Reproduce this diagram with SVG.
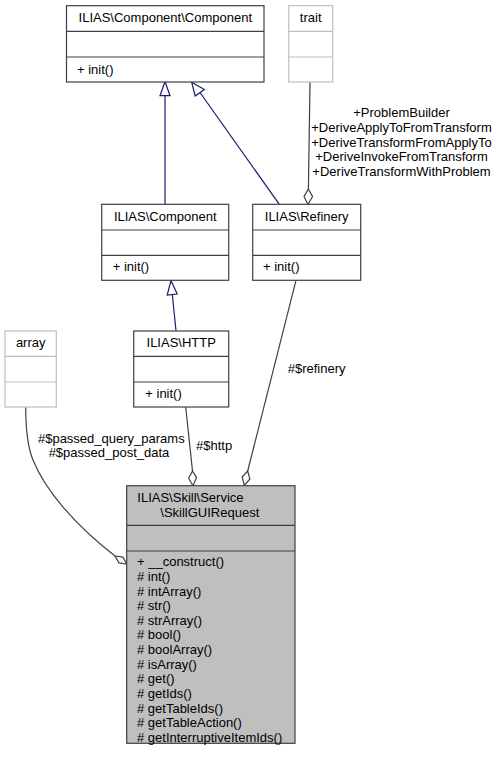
<svg xmlns="http://www.w3.org/2000/svg" width="499" height="759" viewBox="0 0 499 759">
<style>
text{font-family:"Liberation Sans",Arial,sans-serif;font-size:13px;fill:#000}
.c{text-anchor:middle}
.box{fill:#fff;stroke:#404040;stroke-width:1.2}
.gbox{fill:#fff;stroke:#bfbfbf;stroke-width:1.2}
.mbox{fill:#bfbfbf;stroke:#404040;stroke-width:1.2}
.inh{fill:none;stroke:#191970;stroke-width:1.2}
.tri{fill:#fff;stroke:#191970;stroke-width:1.2}
.agg{fill:none;stroke:#404040;stroke-width:1.2}
.dia{fill:#fff;stroke:#404040;stroke-width:1.2}
</style>
<rect width="499" height="759" fill="#fff"/>
<g id="connectors">
  <!-- ILIAS\Component -> Component\Component -->
  <path class="inh" d="M165,204.3 L165,95.7"/>
  <polygon class="tri" points="165,81.5 160,95.7 170,95.7"/>
  <!-- Refinery -> Component\Component -->
  <path class="inh" d="M279.3,204.3 L200,92.5"/>
  <polygon class="tri" points="191.7,82.3 195.2,96 204.3,89.5"/>
  <!-- HTTP -> ILIAS\Component -->
  <path class="inh" d="M176,330.7 L172.3,294.5"/>
  <polygon class="tri" points="171,280.5 167.2,295 177.2,294"/>
  <!-- trait -> Refinery -->
  <path class="agg" d="M310,82 L308.4,189"/>
  <polygon class="dia" points="308.3,189 304,196.6 308,204.3 312.6,196.6"/>
  <!-- array -> main -->
  <path class="agg" d="M25.7,407 C25.7,430 28,448 33,460 C45,490 75,525 115,556"/>
  <polygon class="dia" points="115,556 118.9,562.9 126.7,564 122.9,557.1"/>
  <!-- HTTP -> main -->
  <path class="agg" d="M185.7,407 L192.5,471"/>
  <polygon class="dia" points="192.5,471 188.6,478.3 193,485.7 196.6,477.6"/>
  <!-- Refinery -> main -->
  <path class="agg" d="M296,280.3 L247.7,471"/>
  <polygon class="dia" points="247.7,471 242.2,477 244.3,485.5 249.9,479"/>
</g>
<g id="labels">
  <text class="c" x="401.5" y="117.2">+ProblemBuilder</text>
  <text class="c" x="401.5" y="132">+DeriveApplyToFromTransform</text>
  <text class="c" x="401.5" y="146.7">+DeriveTransformFromApplyTo</text>
  <text class="c" x="401.5" y="161.2">+DeriveInvokeFromTransform</text>
  <text class="c" x="401.5" y="176">+DeriveTransformWithProblem</text>
  <text class="c" x="111.3" y="443">#$passed_query_params</text>
  <text class="c" x="109" y="457.3">#$passed_post_data</text>
  <text x="196" y="450">#$http</text>
  <text x="287.7" y="372.8">#$refinery</text>
</g>
<g id="node-component-component">
  <rect class="box" x="66.5" y="5.7" width="197.5" height="76.3"/>
  <line class="box" x1="66.5" y1="31.3" x2="264" y2="31.3"/>
  <line class="box" x1="66.5" y1="57" x2="264" y2="57"/>
  <text class="c" x="165.3" y="22">ILIAS\Component\Component</text>
  <text x="77" y="74">+ init()</text>
</g>
<g id="node-trait">
  <rect class="gbox" x="288.7" y="5.7" width="44" height="76.3"/>
  <line class="gbox" x1="288.7" y1="31.3" x2="332.7" y2="31.3"/>
  <line class="gbox" x1="288.7" y1="57" x2="332.7" y2="57"/>
  <text class="c" x="310.7" y="22">trait</text>
</g>
<g id="node-component">
  <rect class="box" x="101.7" y="204.3" width="127" height="76"/>
  <line class="box" x1="101.7" y1="230" x2="228.7" y2="230"/>
  <line class="box" x1="101.7" y1="255.3" x2="228.7" y2="255.3"/>
  <text class="c" x="165.2" y="221.3">ILIAS\Component</text>
  <text x="112.7" y="271.3">+ init()</text>
</g>
<g id="node-refinery">
  <rect class="box" x="252.7" y="204.3" width="108" height="76"/>
  <line class="box" x1="252.7" y1="230" x2="360.7" y2="230"/>
  <line class="box" x1="252.7" y1="255.3" x2="360.7" y2="255.3"/>
  <text class="c" x="306.7" y="221.3">ILIAS\Refinery</text>
  <text x="263" y="271.3">+ init()</text>
</g>
<g id="node-array">
  <rect class="gbox" x="5" y="331" width="51.3" height="76"/>
  <line class="gbox" x1="5" y1="356.3" x2="56.3" y2="356.3"/>
  <line class="gbox" x1="5" y1="382" x2="56.3" y2="382"/>
  <text class="c" x="30.7" y="347.3">array</text>
</g>
<g id="node-http">
  <rect class="box" x="133.7" y="331" width="95" height="76"/>
  <line class="box" x1="133.7" y1="356.3" x2="228.7" y2="356.3"/>
  <line class="box" x1="133.7" y1="382" x2="228.7" y2="382"/>
  <text class="c" x="181.2" y="347.3">ILIAS\HTTP</text>
  <text x="145.3" y="398">+ init()</text>
</g>
<g id="node-skillguirequest">
  <rect class="mbox" x="126.7" y="485.7" width="168.3" height="257.6"/>
  <line class="mbox" x1="126.7" y1="525.3" x2="295" y2="525.3"/>
  <line class="mbox" x1="126.7" y1="551" x2="295" y2="551"/>
  <text x="137.3" y="502">ILIAS\Skill\Service</text>
  <text class="c" x="209.8" y="517">\SkillGUIRequest</text>
  <text x="137" y="566.2">+ __construct()</text>
  <text x="137" y="580.8"># int()</text>
  <text x="137" y="595.5"># intArray()</text>
  <text x="137" y="610.1"># str()</text>
  <text x="137" y="624.7"># strArray()</text>
  <text x="137" y="639.3"># bool()</text>
  <text x="137" y="654"># boolArray()</text>
  <text x="137" y="668.6"># isArray()</text>
  <text x="137" y="683.2"># get()</text>
  <text x="137" y="697.9"># getIds()</text>
  <text x="137" y="712.5"># getTableIds()</text>
  <text x="137" y="727.1"># getTableAction()</text>
  <text x="137" y="741.8"># getInterruptiveItemIds()</text>
</g>
</svg>
